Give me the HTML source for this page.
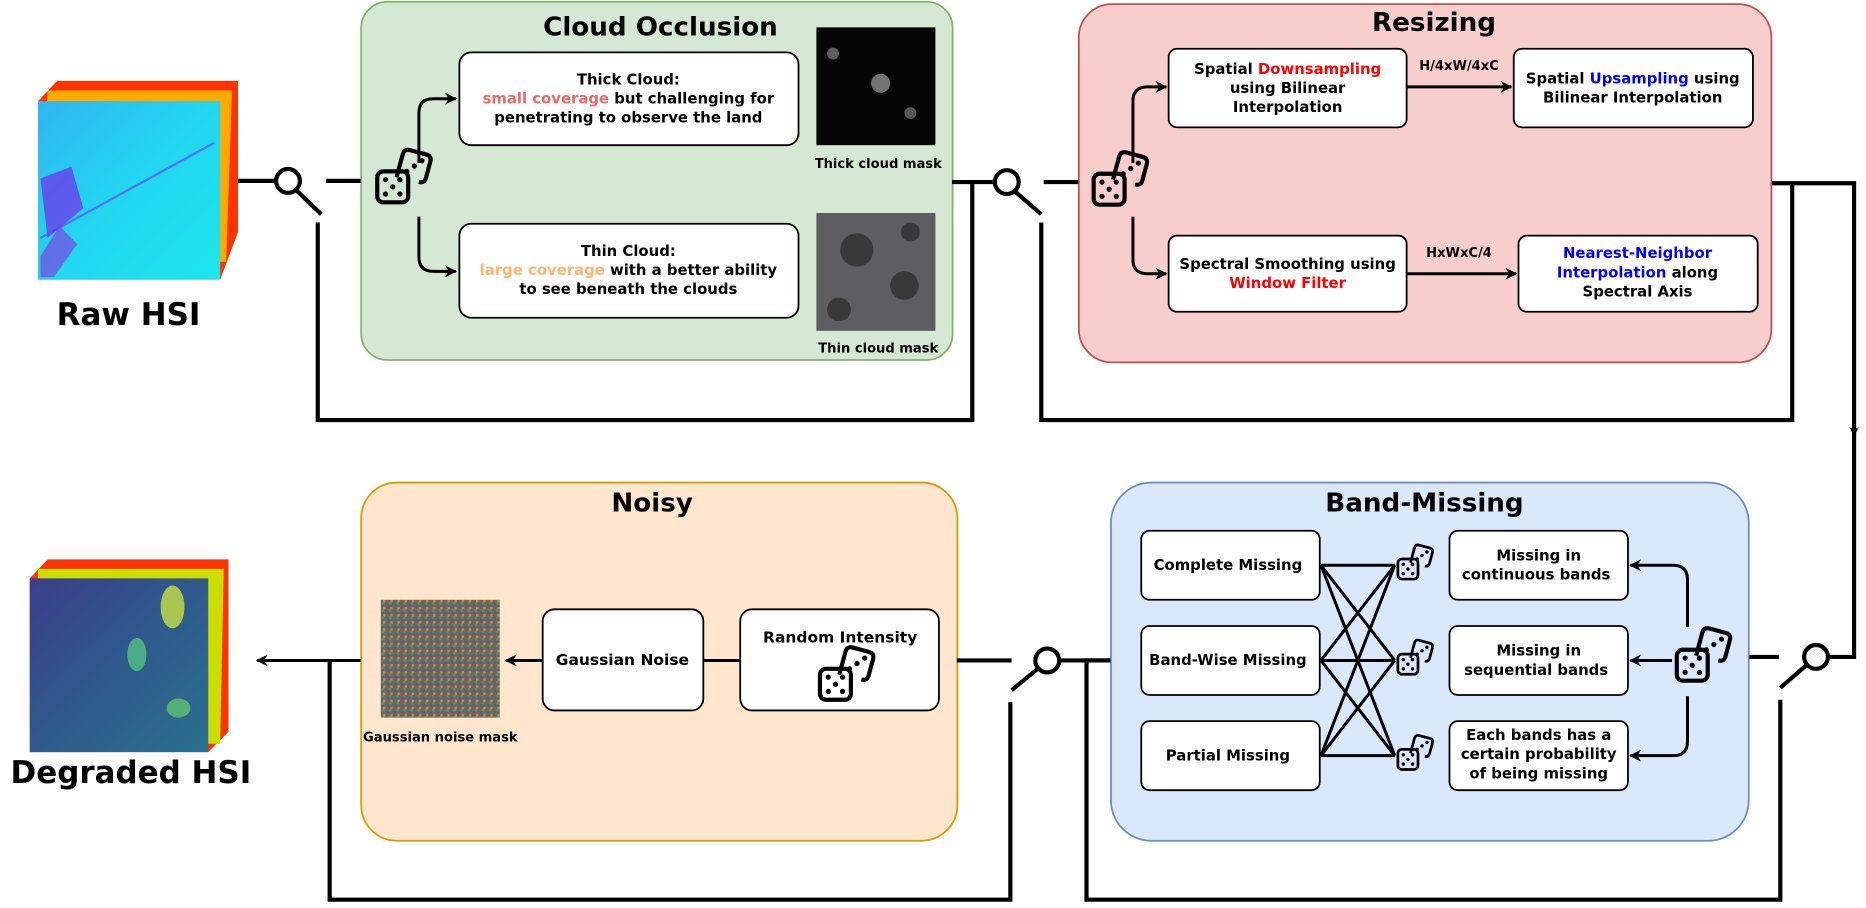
<!DOCTYPE html>
<html><head><meta charset="utf-8"><style>
html,body{margin:0;padding:0;background:#fff;}
svg{display:block;}
text{font-family:"DejaVu Sans","Liberation Sans",sans-serif;font-weight:bold;}
</style></head><body>
<svg width="1866" height="908" viewBox="0 0 1568 763" xmlns="http://www.w3.org/2000/svg">
<defs>
<marker id="ah" viewBox="0 0 10 10" refX="9" refY="5" markerWidth="4" markerHeight="4" orient="auto"><path d="M0,0 L10,5 L0,10 L3,5 z" fill="#000"/></marker>
<g id="dice">
<g transform="rotate(15 30 14)">
<path d="M20,26 L20,6 Q20,1 25,1 L39,1 Q44,1 44,6 L44,20 Q44,25 39,25" fill="none" stroke="#000" stroke-width="3.5"/>
<circle cx="37" cy="7" r="2.2"/><circle cx="32" cy="13" r="2.2"/><circle cx="27" cy="19" r="2.2"/>
</g>
<rect x="1" y="18" width="26" height="26" rx="5" fill="none" stroke="#000" stroke-width="3.5"/>
<circle cx="8" cy="25" r="2.2"/><circle cx="20" cy="25" r="2.2"/><circle cx="14" cy="31" r="2.2"/><circle cx="8" cy="37" r="2.2"/><circle cx="20" cy="37" r="2.2"/>
</g>
<linearGradient id="raw" x1="0" y1="0" x2="1" y2="1"><stop offset="0" stop-color="#2fb6f2"/><stop offset="0.5" stop-color="#22d6f0"/><stop offset="1" stop-color="#1ee6ee"/></linearGradient>
<linearGradient id="deg" x1="0" y1="0" x2="1" y2="1"><stop offset="0" stop-color="#3a3f8a"/><stop offset="0.5" stop-color="#2f5a8c"/><stop offset="1" stop-color="#2a6f8e"/></linearGradient>
<pattern id="noise" width="6" height="6" patternUnits="userSpaceOnUse"><rect width="6" height="6" fill="#6a6a5a"/><rect width="2" height="2" fill="#c04050"/><rect x="3" y="2" width="2" height="2" fill="#40a060"/><rect x="1" y="4" width="2" height="2" fill="#5050c0"/><rect x="4" y="0" width="2" height="2" fill="#a0a040"/></pattern>
</defs>

<!-- Raw HSI cube -->
<polygon points="48,68 200,68 200,195 185,235 32,235 32,85" fill="#ff3300"/>
<polygon points="40,76 195,76 190,220 36,220" fill="#ffaa00"/>
<rect x="32" y="85" width="153" height="150" fill="url(#raw)"/>
<path d="M34,150 L60,140 L70,175 L40,200 Z" fill="#6a3de8" opacity="0.8"/>
<path d="M34,215 L50,190 L65,205 L45,233 L34,233Z" fill="#7a45e0" opacity="0.7"/>
<line x1="34" y1="200" x2="180" y2="120" stroke="#6a3de8" stroke-width="2" opacity="0.6"/>
<text x="108" y="273" font-size="26" text-anchor="middle">Raw HSI</text>

<!-- Degraded HSI cube -->
<polygon points="40,470 192,470 192,615 175,632 25,632 25,486" fill="#ff3300"/>
<polygon points="32,478 188,478 185,625 28,625" fill="#ccdd00"/>
<rect x="25" y="486" width="150" height="146" fill="url(#deg)"/>
<ellipse cx="145" cy="510" rx="10" ry="18" fill="#c8e040" opacity="0.8"/>
<ellipse cx="115" cy="550" rx="8" ry="14" fill="#50c080" opacity="0.8"/>
<ellipse cx="150" cy="595" rx="10" ry="8" fill="#60c070" opacity="0.8"/>
<text x="110" y="658" font-size="26" text-anchor="middle">Degraded HSI</text>

<!-- Cloud Occlusion -->
<rect x="303.5" y="1.5" width="497" height="301" rx="22" fill="#d5e8d4" stroke="#82b366" stroke-width="1.5"/>
<text x="555" y="30" font-size="22" text-anchor="middle">Cloud Occlusion</text>
<rect x="386" y="44" width="285" height="78" rx="10" fill="#fff" stroke="#000" stroke-width="1.5"/>
<text font-size="12.5" text-anchor="middle"><tspan x="528" y="71">Thick Cloud:</tspan><tspan x="528" y="87"><tspan fill="#ea6b66">small coverage</tspan> but challenging for</tspan><tspan x="528" y="103">penetrating to observe the land</tspan></text>
<rect x="386" y="188" width="285" height="79" rx="10" fill="#fff" stroke="#000" stroke-width="1.5"/>
<text font-size="12.5" text-anchor="middle"><tspan x="528" y="215">Thin Cloud:</tspan><tspan x="528" y="231"><tspan fill="#ffb570">large coverage</tspan> with a better ability</tspan><tspan x="528" y="247">to see beneath the clouds</tspan></text>
<rect x="686" y="23" width="100" height="99" fill="#050505"/>
<circle cx="740" cy="70" r="8" fill="#bbb" opacity="0.6"/><circle cx="700" cy="45" r="5" fill="#999" opacity="0.6"/><circle cx="765" cy="95" r="5" fill="#aaa" opacity="0.5"/>
<text x="738" y="141" font-size="11" text-anchor="middle">Thick cloud mask</text>
<rect x="686" y="179" width="100" height="99" fill="#5e5e60"/>
<circle cx="720" cy="210" r="14" fill="#2a2a2a" opacity="0.7"/><circle cx="760" cy="240" r="12" fill="#2a2a2a" opacity="0.7"/><circle cx="705" cy="260" r="10" fill="#2a2a2a" opacity="0.7"/><circle cx="765" cy="195" r="8" fill="#2a2a2a" opacity="0.7"/>
<text x="738" y="296" font-size="11" text-anchor="middle">Thin cloud mask</text>
<use href="#dice" x="316" y="126"/>
<path d="M352,137 L352,95 Q352,83 364,83 L383,83" fill="none" stroke="#000" stroke-width="2.5" marker-end="url(#ah)"/>
<path d="M352,182 L352,216 Q352,228 364,228 L383,228" fill="none" stroke="#000" stroke-width="2.5" marker-end="url(#ah)"/>

<!-- Resizing -->
<rect x="906.5" y="3.5" width="582" height="301" rx="28" fill="#f8cecc" stroke="#b85450" stroke-width="1.5"/>
<text x="1205" y="26" font-size="22" text-anchor="middle">Resizing</text>
<rect x="982" y="41" width="200" height="66" rx="7" fill="#fff" stroke="#000" stroke-width="1.5"/>
<text font-size="12.5" text-anchor="middle"><tspan x="1082" y="62">Spatial <tspan fill="#ff0000">Downsampling</tspan></tspan><tspan x="1082" y="78">using Bilinear</tspan><tspan x="1082" y="94">Interpolation</tspan></text>
<rect x="1272" y="41" width="201" height="66" rx="7" fill="#fff" stroke="#000" stroke-width="1.5"/>
<text font-size="12.5" text-anchor="middle"><tspan x="1372" y="70">Spatial <tspan fill="#0000ff">Upsampling</tspan> using</tspan><tspan x="1372" y="86">Bilinear Interpolation</tspan></text>
<rect x="982" y="198" width="200" height="64" rx="7" fill="#fff" stroke="#000" stroke-width="1.5"/>
<text font-size="12.5" text-anchor="middle"><tspan x="1082" y="226">Spectral Smoothing using</tspan><tspan x="1082" y="242" fill="#ff0000">Window Filter</tspan></text>
<rect x="1276" y="198" width="201" height="64" rx="7" fill="#fff" stroke="#000" stroke-width="1.5"/>
<text font-size="12.5" text-anchor="middle"><tspan x="1376" y="217" fill="#0000ff">Nearest-Neighbor</tspan><tspan x="1376" y="233"><tspan fill="#0000ff">Interpolation</tspan> along</tspan><tspan x="1376" y="249">Spectral Axis</tspan></text>
<line x1="1182" y1="73" x2="1270" y2="73" stroke="#000" stroke-width="2.5" marker-end="url(#ah)"/>
<line x1="1182" y1="230" x2="1274" y2="230" stroke="#000" stroke-width="2.5" marker-end="url(#ah)"/>
<text x="1226" y="59" font-size="11" text-anchor="middle">H/4xW/4xC</text>
<text x="1226" y="216" font-size="11" text-anchor="middle">HxWxC/4</text>
<use href="#dice" x="918" y="128"/>
<path d="M952,137 L952,85 Q952,73 964,73 L980,73" fill="none" stroke="#000" stroke-width="2.5" marker-end="url(#ah)"/>
<path d="M952,182 L952,218 Q952,230 964,230 L980,230" fill="none" stroke="#000" stroke-width="2.5" marker-end="url(#ah)"/>

<!-- Band-Missing -->
<rect x="933.5" y="405.5" width="536" height="301" rx="34" fill="#dae8fc" stroke="#6c8ebf" stroke-width="1.5"/>
<text x="1197" y="430" font-size="22" text-anchor="middle">Band-Missing</text>
<g fill="#fff" stroke="#000" stroke-width="1.5">
<rect x="959" y="446" width="150" height="58" rx="7"/><rect x="959" y="526" width="150" height="58" rx="7"/>
<rect x="959" y="606" width="150" height="58" rx="7"/>
<rect x="1218" y="446" width="150" height="58" rx="7"/><rect x="1218" y="526" width="150" height="58" rx="7"/><rect x="1218" y="606" width="150" height="58" rx="7"/>
</g>
<text font-size="12.5" text-anchor="middle">
<tspan x="1034" y="479">Complete Missing</tspan>
<tspan x="1034" y="559">Band-Wise Missing</tspan>
<tspan x="1034" y="639">Partial Missing</tspan>
<tspan x="1293" y="471">Missing in</tspan><tspan x="1293" y="487">continuous bands</tspan>
<tspan x="1293" y="551">Missing in</tspan><tspan x="1293" y="567">sequential bands</tspan>
<tspan x="1293" y="622">Each bands has a</tspan><tspan x="1293" y="638">certain probability</tspan><tspan x="1293" y="654">of being missing</tspan>
</text>
<g stroke="#000" stroke-width="2.5">
<line x1="1110" y1="475" x2="1172" y2="475"/><line x1="1110" y1="475" x2="1172" y2="555"/><line x1="1110" y1="475" x2="1172" y2="635"/>
<line x1="1110" y1="555" x2="1172" y2="475"/><line x1="1110" y1="555" x2="1172" y2="555"/><line x1="1110" y1="555" x2="1172" y2="635"/>
<line x1="1110" y1="635" x2="1172" y2="475"/><line x1="1110" y1="635" x2="1172" y2="555"/><line x1="1110" y1="635" x2="1172" y2="635"/>
</g>
<use href="#dice" transform="translate(1174,458) scale(0.65)"/>
<use href="#dice" transform="translate(1174,538) scale(0.65)"/>
<use href="#dice" transform="translate(1174,618) scale(0.65)"/>
<use href="#dice" x="1408" y="528"/>
<path d="M1418,527 L1418,487 Q1418,475 1406,475 L1370,475" fill="none" stroke="#000" stroke-width="2.5" marker-end="url(#ah)"/>
<line x1="1405" y1="555" x2="1370" y2="555" stroke="#000" stroke-width="2.5" marker-end="url(#ah)"/>
<path d="M1418,585 L1418,623 Q1418,635 1406,635 L1370,635" fill="none" stroke="#000" stroke-width="2.5" marker-end="url(#ah)"/>

<!-- Noisy -->
<rect x="303.5" y="405.5" width="501" height="301" rx="30" fill="#ffe6cc" stroke="#d79b00" stroke-width="1.5"/>
<text x="548" y="430" font-size="22" text-anchor="middle">Noisy</text>
<rect x="320" y="504" width="100" height="99" fill="url(#noise)"/>
<text x="370" y="623" font-size="11" text-anchor="middle">Gaussian noise mask</text>
<rect x="456" y="512" width="135" height="85" rx="10" fill="#fff" stroke="#000" stroke-width="1.5"/>
<text x="523" y="559" font-size="13" text-anchor="middle">Gaussian Noise</text>
<rect x="622" y="512" width="167" height="85" rx="10" fill="#fff" stroke="#000" stroke-width="1.5"/>
<text x="706" y="540" font-size="13" text-anchor="middle">Random Intensity</text>
<use href="#dice" x="688" y="544"/>
<line x1="622" y1="555" x2="591" y2="555" stroke="#000" stroke-width="2.5"/>
<line x1="456" y1="555" x2="425" y2="555" stroke="#000" stroke-width="2.5" marker-end="url(#ah)"/>

<!-- connectors and switches -->
<g fill="none" stroke="#000" stroke-width="3.5">
<line x1="200" y1="152" x2="232" y2="152"/><circle cx="242" cy="152" r="10"/><line x1="249" y1="160" x2="270" y2="180"/><line x1="274" y1="152" x2="303" y2="152"/>
<polyline points="267,187 267,353 817,353 817,152"/>
<line x1="800" y1="153" x2="836" y2="153"/><circle cx="846" cy="153" r="10"/><line x1="853" y1="161" x2="875" y2="180"/><line x1="877" y1="153" x2="906" y2="153"/>
<polyline points="875,187 875,353 1506,353 1506,154"/>
<polyline points="1489,154 1558,154 1558,552 1537,552"/><circle cx="1526" cy="552" r="10"/><line x1="1518" y1="559" x2="1496" y2="578"/><line x1="1470" y1="552" x2="1495" y2="552"/>
<polyline points="1496,588 1496,756 913,756 913,555 933,555"/>
<line x1="804" y1="555" x2="850" y2="555"/><circle cx="880" cy="555" r="10"/><line x1="872" y1="562" x2="850" y2="580"/><line x1="890" y1="555" x2="933" y2="555"/>
<polyline points="849,590 849,756 277,756 277,555"/>
<line x1="303" y1="555" x2="216" y2="555" stroke-width="2.5" marker-end="url(#ah)"/>
</g>
<line x1="1558" y1="340" x2="1558" y2="366" stroke="#000" stroke-width="2" marker-end="url(#ah)"/>
</svg>
</body></html>
